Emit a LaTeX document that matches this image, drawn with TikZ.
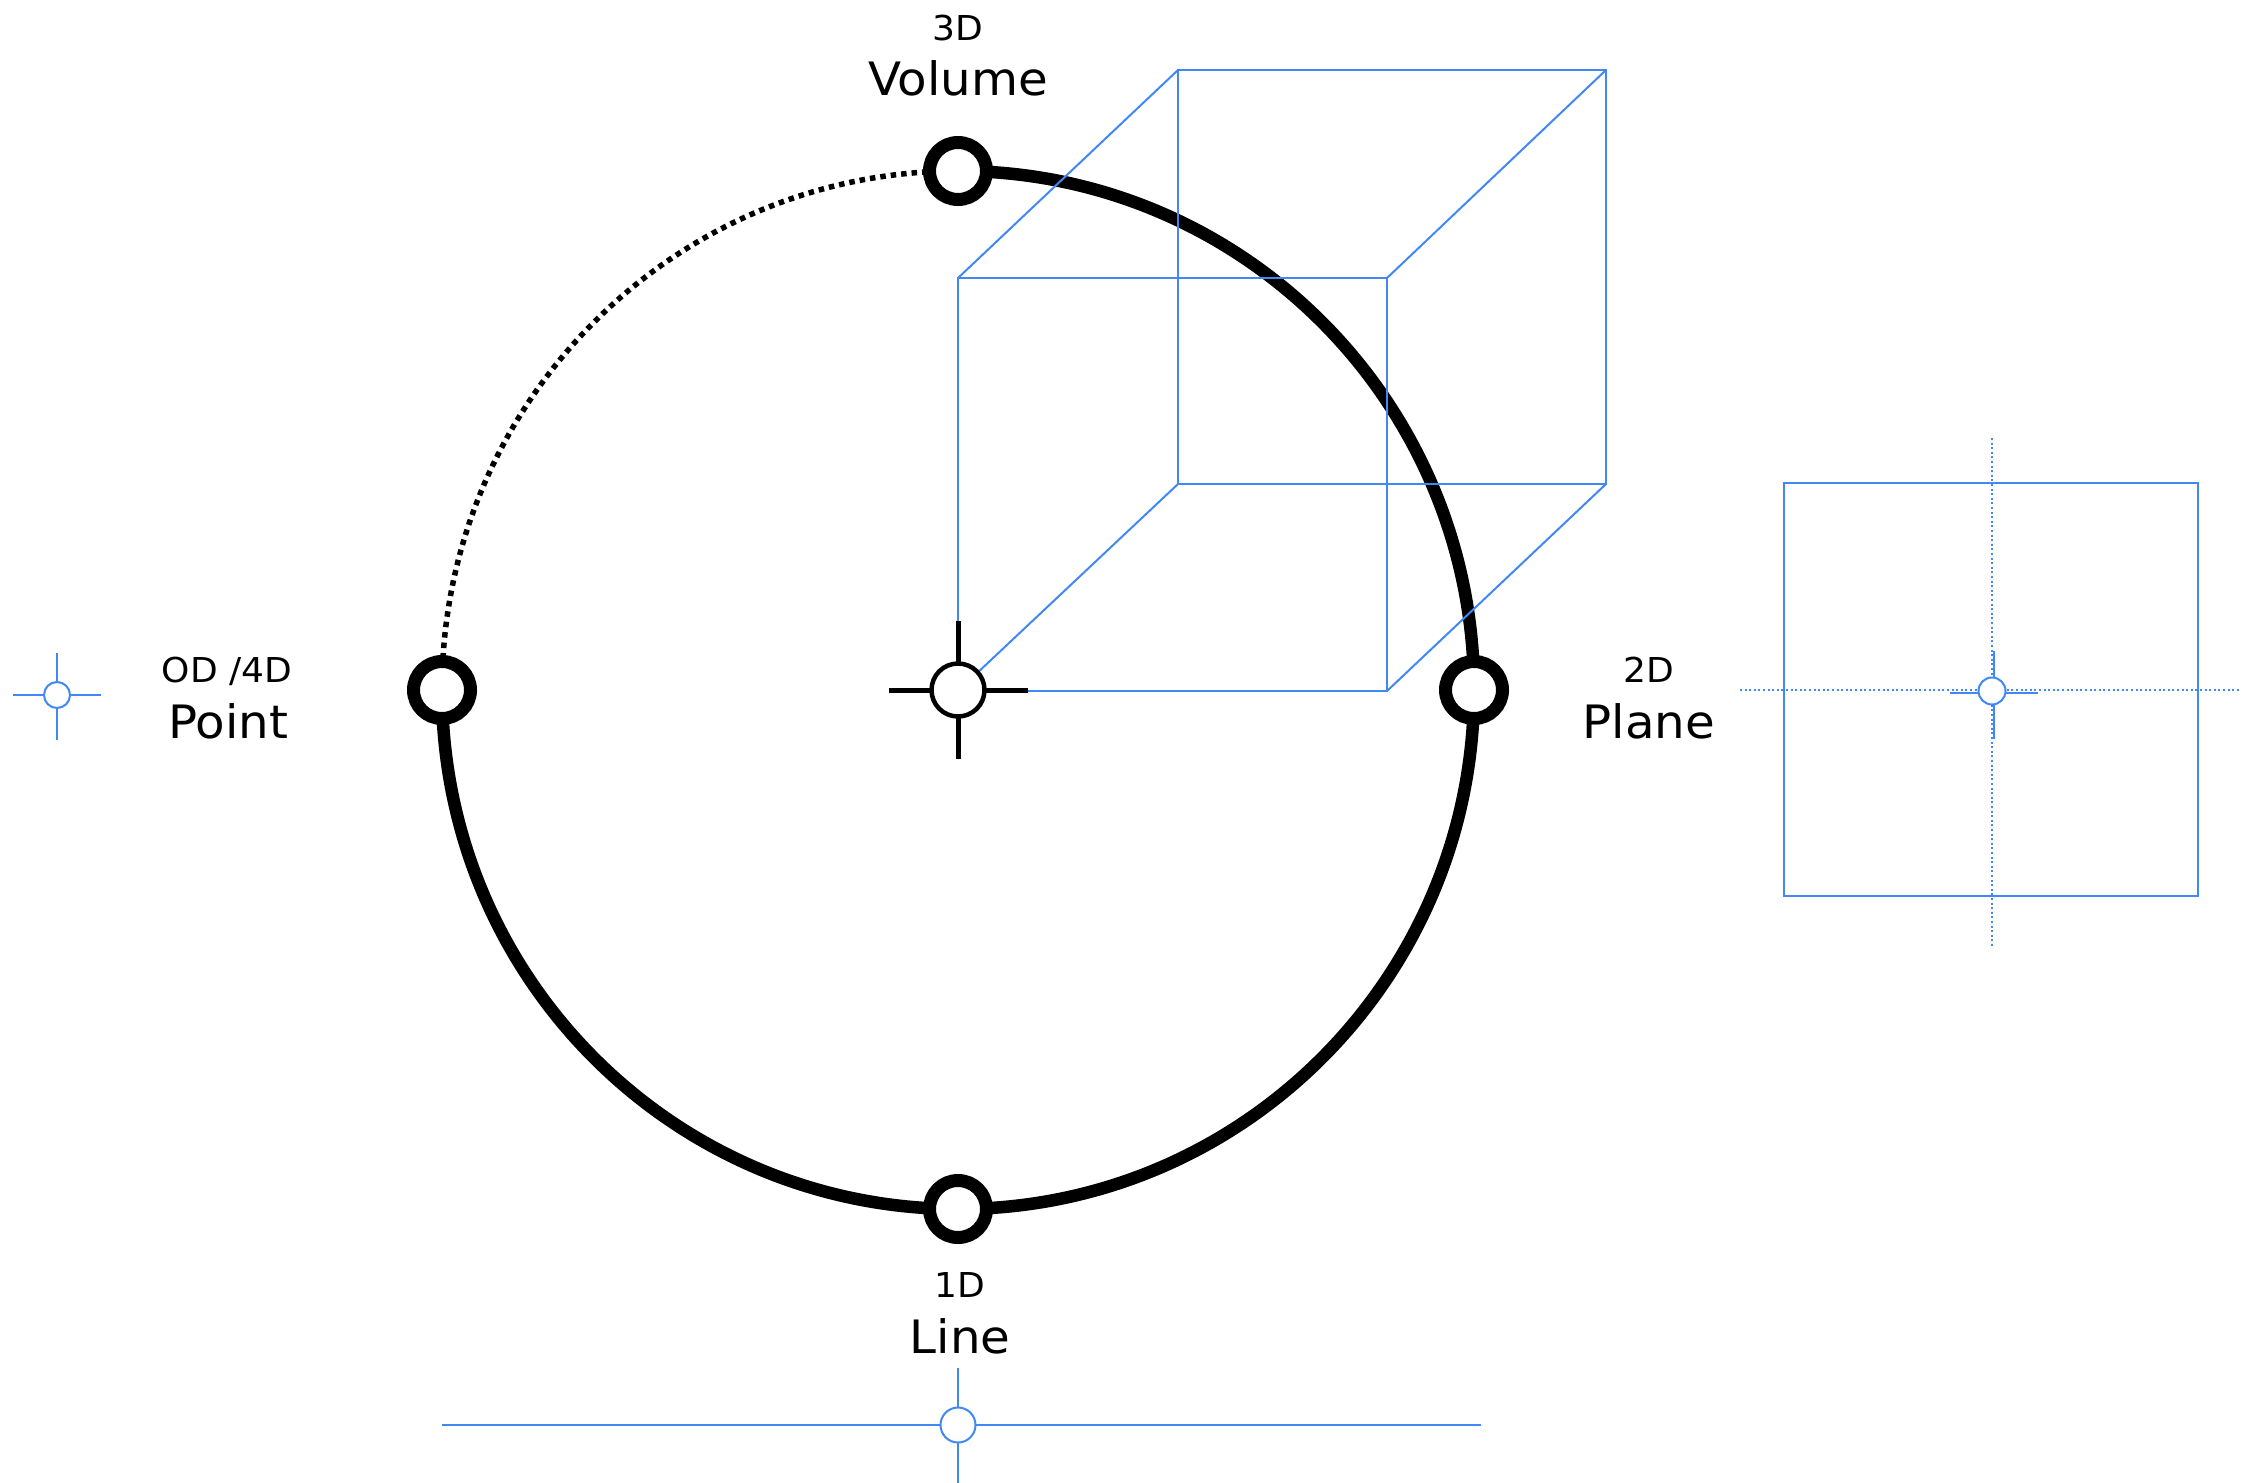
\documentclass[tikz,border=0pt]{standalone}
\usepackage{fontspec}
\setmainfont[FakeStretch=1.05]{DejaVu Sans}
\begin{document}
\begin{tikzpicture}[x=1pt,y=-1pt,
  ring/.style={circle,draw=black,line width=13pt,fill=white,minimum size=57pt,inner sep=0pt,outer sep=0pt},
  hub/.style={circle,draw=black,line width=4.5pt,fill=white,minimum size=53pt,inner sep=0pt,outer sep=0pt},
  arm/.style={draw=black,line width=5pt},
  bluering/.style={circle,draw=cadblue,line width=2pt,fill=white,inner sep=0pt,outer sep=0pt},
  blueline/.style={draw=cadblue,line width=2pt},
  guide/.style={draw=cadblue,line width=1.6pt,dash pattern=on 2pt off 2.6pt},
  small/.style={font=\fontsize{34.3}{40}\selectfont,inner sep=0pt,anchor=base},
  big/.style={font=\fontsize{46}{52}\selectfont,inner sep=0pt,anchor=base}]
\definecolor{cadblue}{RGB}{66,136,245}
\useasboundingbox[fill=white] (0,0) rectangle (2260,1483);

% positions on the dimension circle
\coordinate (cc) at (958,690);
\coordinate (pT) at (958,171);
\coordinate (pL) at (442,690);
\coordinate (pR) at (1474,690);
\coordinate (pB) at (958,1209);

% the circle: dotted quarter from point to volume, solid for the rest
\draw[line width=5.5pt,dash pattern=on 5.5pt off 5pt]
  (pL) arc[start angle=180,end angle=270,x radius=516,y radius=519];
\draw[line width=12.5pt]
  (pT) arc[start angle=-90,end angle=180,x radius=516,y radius=519];

% wireframe cube
\coordinate (f1) at (958,278);
\coordinate (f2) at (1387,278);
\coordinate (f3) at (1387,691);
\coordinate (f4) at (958,691);
\coordinate (b1) at (1178,70);
\coordinate (b2) at (1606,70);
\coordinate (b3) at (1606,484);
\coordinate (b4) at (1178,484);
\draw[blueline] (f1) -- (f2) -- (f3) -- (f4) -- cycle;
\draw[blueline] (b1) -- (b2) -- (b3) -- (b4) -- cycle;
\draw[blueline] (f1) -- (b1) (f2) -- (b2) (f3) -- (b3) (f4) -- (b4);

% origin crosshair
\node[hub] (hub) at (cc) {};
\draw[arm] (hub.west) -- ++(-43,0);
\draw[arm] (hub.east) -- ++(43,0);
\draw[arm] (hub.north) -- ++(0,-42.5);
\draw[arm] (hub.south) -- ++(0,42.5);

% dimension stations
\node[ring] (top) at (pT) {};
\node[ring] (left) at (pL) {};
\node[ring] (right) at (pR) {};
\node[ring] (bottom) at (pB) {};

% labels
\node[small] (l3) at (958,40) {3D};
\node[big] (l3b) at (958,95) {Volume};
\node[small] (l0) at (227,682) {OD /4D};
\node[big] (l0b) at (228,738) {Point};
\node[small] (l2) at (1649,682) {2D};
\node[big] (l2b) at (1649,738) {Plane};
\node[small] (l1) at (960,1297) {1D};
\node[big] (l1b) at (960,1353) {Line};

% point symbol
\node[bluering,minimum size=26pt] (pt) at (57,695) {};
\draw[blueline] (pt.west) -- ++(-31,0);
\draw[blueline] (pt.east) -- ++(31,0);
\draw[blueline] (pt.north) -- ++(0,-29);
\draw[blueline] (pt.south) -- ++(0,32);

% line symbol
\coordinate (lnA) at (442,1425);
\coordinate (lnB) at (1481,1425);
\node[bluering,minimum size=35pt] (ln) at (958,1425) {};
\draw[blueline] (lnA) -- (ln.west);
\draw[blueline] (ln.east) -- (lnB);
\draw[blueline] (ln.north) -- ++(0,-40);
\draw[blueline] (ln.south) -- ++(0,42);

% plane symbol
\draw[cadblue,line width=2.5pt] (1784,483) rectangle (2198,896);
\coordinate (gT) at (1992,438);
\coordinate (gB) at (1992,947);
\coordinate (gL) at (1740,690);
\coordinate (gR) at (2239,690);
\draw[guide] (gT) -- (gB);
\draw[guide] (gL) -- (gR);
\node[bluering,minimum size=27pt] (pl) at (1992,691) {};
\coordinate (plc) at (1994,693);
\draw[blueline] (pl.west |- plc) -- (1950,693);
\draw[blueline] (pl.east |- plc) -- (2038,693);
\draw[blueline] (pl.north -| plc) -- (1994,651);
\draw[blueline] (pl.south -| plc) -- (1994,739);
\end{tikzpicture}
\end{document}
